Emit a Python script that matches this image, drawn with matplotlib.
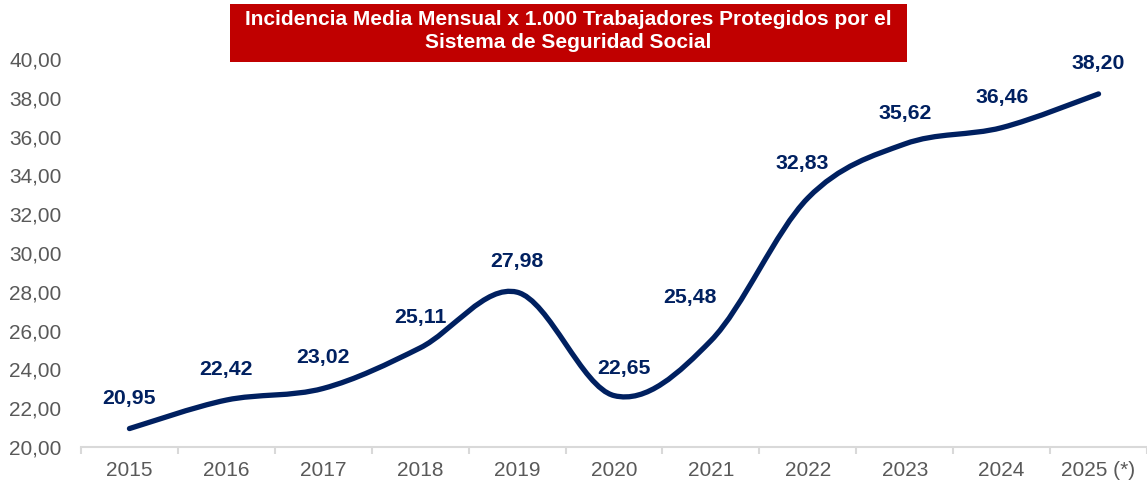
import matplotlib.pyplot as plt
import numpy as np
from matplotlib.path import Path
from matplotlib.patches import PathPatch

years = ["2015", "2016", "2017", "2018", "2019", "2020", "2021", "2022",
         "2023", "2024", "2025 (*)"]
values = [20.95, 22.42, 23.02, 25.11, 27.98, 22.65, 25.48, 32.83, 35.62,
          36.46, 38.20]
labels = ["20,95", "22,42", "23,02", "25,11", "27,98", "22,65", "25,48",
          "32,83", "35,62", "36,46", "38,20"]

navy = "#002060"
red = "#C00000"

plt.rcParams['font.family'] = ['Liberation Sans', 'DejaVu Sans']


def smooth_path(x, y, t=1 / 6):
    # Excel-style smoothed line as cubic Bezier segments
    pts = np.column_stack([x, y])
    verts = [pts[0]]
    codes = [Path.MOVETO]
    n = len(pts)
    for i in range(n - 1):
        p0 = pts[i - 1] if i > 0 else pts[i]
        p1 = pts[i]
        p2 = pts[i + 1]
        p3 = pts[i + 2] if i + 2 < n else pts[i + 1]
        c1 = p1 + (p2 - p0) * t
        c2 = p2 - (p3 - p1) * t
        verts += [c1, c2, p2]
        codes += [Path.CURVE4] * 3
    return Path(verts, codes)


fig = plt.figure(figsize=(11.47, 4.84), dpi=100)
ax = fig.add_axes([81 / 1147, (484 - 447) / 484, 1066 / 1147, 388 / 484])

x = np.arange(len(years))
ax.add_patch(PathPatch(smooth_path(x, values), fill=False, edgecolor=navy,
                       lw=3.8, capstyle='round', joinstyle='round'))

# a few labels were nudged by hand in the original (offsets in points)
nudge = {5: (7, 19.5), 6: (-15, 31), 7: (-4, 25)}
for i, (xi, v, lab) in enumerate(zip(x, values, labels)):
    dx, dy = nudge.get(i, (0, 22))
    ax.annotate(lab, (xi, v), xytext=(dx, dy), textcoords='offset points',
                ha='center', va='center', fontsize=15.3, fontweight='bold',
                color=navy)

ax.set_xlim(-0.5, len(years) - 0.5)
ax.set_ylim(20, 40)
ax.set_yticks(np.arange(20, 41, 2))
ax.set_yticklabels([("%.2f" % v).replace(".", ",") for v in np.arange(20, 41, 2)])
ax.set_xticks(x)
ax.set_xticklabels(years)
ax.set_xticks(np.arange(-0.5, len(years), 1), minor=True)

for s in ["top", "right", "left"]:
    ax.spines[s].set_visible(False)
ax.spines["bottom"].set_color("#d9d9d9")
ax.spines["bottom"].set_linewidth(1.5)
ax.tick_params(axis='y', length=0, pad=14, labelsize=15, labelcolor="#595959")
ax.tick_params(axis='x', which='major', length=0, pad=10, labelsize=15,
               labelcolor="#595959")
ax.tick_params(axis='x', which='minor', length=5, width=1.5, color="#d9d9d9")

fig.patches.append(plt.Rectangle((230 / 1147, (484 - 62) / 484), 677 / 1147,
                                 58 / 484, transform=fig.transFigure,
                                 facecolor=red, edgecolor='none'))
fig.text(568 / 1147, (484 - 31) / 484,
         "Incidencia Media Mensual x 1.000 Trabajadores Protegidos por el\nSistema de Seguridad Social",
         ha='center', va='center', color='white', fontsize=15,
         fontweight='bold', linespacing=1.3)

plt.savefig("out.png", dpi=100)
